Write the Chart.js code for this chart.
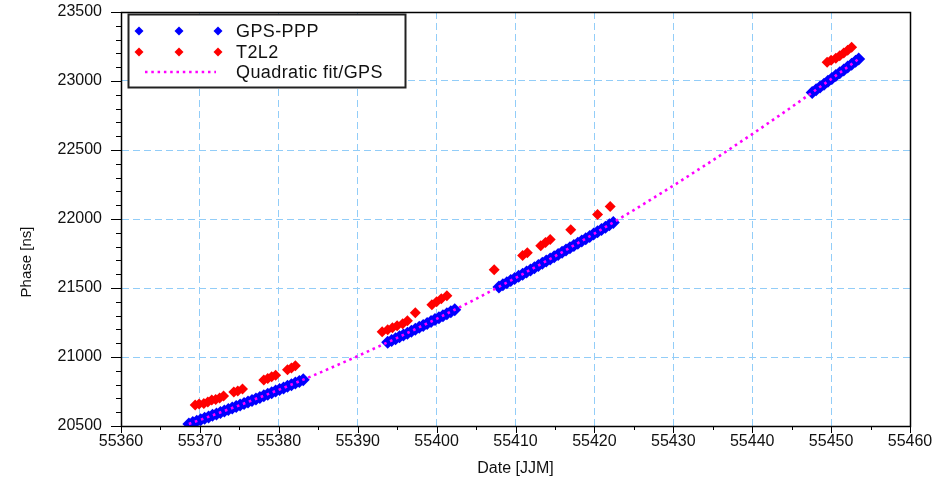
<!DOCTYPE html>
<html>
<head>
<meta charset="utf-8">
<script src="https://cdn.jsdelivr.net/npm/chart.js@4.4.1/dist/chart.umd.min.js"></script>
<style>
  html, body { margin: 0; padding: 0; background: #fff; }
  #wrap { width: 950px; height: 483px; }
</style>
</head>
<body>
<div id="wrap"><canvas id="c" width="950" height="483"></canvas></div>
<script>
// GPS-PPP phase solution (MJD, ns)
const gpsDates = [
  55368.6, 55369.1, 55369.6, 55370.1, 55370.6, 55371.1, 55371.6, 55372.1, 55372.6, 55373.1,
  55373.6, 55374.1, 55374.6, 55375.1, 55375.6, 55376.1, 55376.6, 55377.1, 55377.6, 55378.1,
  55378.6, 55379.1, 55379.6, 55380.1, 55380.6, 55381.1, 55381.6, 55382.1, 55382.6, 55383.1,
  55393.8, 55394.3, 55394.8, 55395.3, 55395.8, 55396.3, 55396.8, 55397.3, 55397.8, 55398.3,
  55398.8, 55399.3, 55399.8, 55400.3, 55400.8, 55401.3, 55401.8, 55402.3,
  55407.9, 55408.4, 55408.9, 55409.4, 55409.9, 55410.4, 55410.9, 55411.4, 55411.9, 55412.4,
  55412.9, 55413.4, 55413.9, 55414.4, 55414.9, 55415.4, 55415.9, 55416.4, 55416.9, 55417.4,
  55417.9, 55418.4, 55418.9, 55419.4, 55419.9, 55420.4, 55420.9, 55421.4, 55421.9, 55422.4,
  55447.6, 55448.1, 55448.6, 55449.1, 55449.6, 55450.1, 55450.6, 55451.1, 55451.6, 55452.1,
  55452.6, 55453.1, 55453.5
];
const gpsPhase = [
  20515, 20525, 20535, 20546, 20556, 20566, 20577, 20587, 20598, 20609,
  20619, 20630, 20641, 20652, 20663, 20674, 20685, 20696, 20707, 20719,
  20730, 20741, 20753, 20764, 20776, 20788, 20799, 20811, 20823, 20835,
  21106, 21119, 21133, 21146, 21160, 21173, 21187, 21201, 21215, 21229,
  21243, 21257, 21271, 21285, 21299, 21313, 21328, 21342,
  21508, 21523, 21538, 21554, 21569, 21585, 21600, 21616, 21631, 21647,
  21663, 21679, 21695, 21711, 21727, 21743, 21759, 21775, 21791, 21808,
  21824, 21841, 21857, 21874, 21891, 21907, 21924, 21941, 21958, 21975,
  22916, 22936, 22957, 22977, 22998, 23018, 23039, 23059, 23080, 23101,
  23122, 23143, 23160
];

// T2L2 time transfer results (MJD, ns)
const t2l2Dates = [
  55369.4, 55369.9, 55370.5, 55371.0, 55371.5, 55372.0, 55372.5, 55373.0,
  55374.3, 55374.8, 55375.4, 55378.1, 55378.6, 55379.1, 55379.6,
  55381.1, 55381.6, 55382.1,
  55393.1, 55393.8, 55394.4, 55395.0, 55395.7, 55396.3, 55397.3,
  55399.4, 55400.0, 55400.6, 55401.3,
  55407.3, 55410.9, 55411.5, 55413.2, 55413.8, 55414.4, 55417.0, 55420.4, 55422.0,
  55449.5, 55450.0, 55450.6, 55451.1, 55451.6, 55452.1, 55452.6
];
const t2l2Phase = [
  20652, 20660, 20663, 20674, 20689, 20692, 20703, 20718,
  20747, 20754, 20769, 20834, 20845, 20856, 20867,
  20907, 20921, 20936,
  21183, 21197, 21212, 21226, 21241, 21263, 21321,
  21379, 21401, 21422, 21444,
  21633, 21735, 21756, 21807, 21829, 21851, 21923, 22032, 22090,
  23136, 23151, 23165, 23183, 23202, 23223, 23245
];

// Quadratic fit of the GPS phase, tabulated
const fitDates = [
  55368.6, 55370, 55375, 55380, 55385, 55390, 55395, 55400, 55405, 55410,
  55415, 55420, 55425, 55430, 55435, 55440, 55445, 55450, 55453.5
];
const fitPhase = [
  20515.1, 20543.6, 20649.6, 20762.0, 20880.9, 21006.3, 21138.1, 21276.4, 21421.1, 21572.3,
  21729.9, 21894.0, 22064.5, 22241.5, 22424.9, 22614.8, 22811.2, 23014.0, 23159.8
];

const seriesNames = ['GPS-PPP', 'T2L2', 'Quadratic fit/GPS'];
const axisTitles = { x: 'Date [JJM]', y: 'Phase [ns]' };
const xTicks = { min: 55360, max: 55460, step: 10, minor: 5 };
const yTicks = { min: 20500, max: 23500, step: 500, minor: 100 };

const BLUE = '#0000ff', RED = '#ff0000', MAGENTA = '#ff00ff', GRID = '#92cdf8';
const FONT = '"Liberation Sans", Arial, sans-serif';

const pairs = (xs, ys) => xs.map((x, i) => ({ x: x, y: ys[i] }));

// White page background
const background = {
  id: 'background',
  beforeDraw(chart) {
    const ctx = chart.ctx;
    ctx.save();
    ctx.fillStyle = '#fff';
    ctx.fillRect(0, 0, chart.width, chart.height);
    ctx.restore();
  }
};

// Plot frame with outward major and minor ticks, plus axis titles
const frame = {
  id: 'frame',
  afterDatasetsDraw(chart) {
    const { ctx, chartArea: a, scales } = chart;
    ctx.save();
    ctx.strokeStyle = '#000';
    ctx.lineWidth = 1;
    ctx.beginPath();
    for (let v = xTicks.min; v <= xTicks.max; v += xTicks.minor) {
      const px = Math.round(scales.x.getPixelForValue(v)) + 0.5;
      const len = (v - xTicks.min) % xTicks.step === 0 ? 7 : 4;
      ctx.moveTo(px, a.bottom);
      ctx.lineTo(px, a.bottom + len);
    }
    for (let v = yTicks.min; v <= yTicks.max; v += yTicks.minor) {
      const py = Math.round(scales.y.getPixelForValue(v)) + 0.5;
      const len = (v - yTicks.min) % yTicks.step === 0 ? 10 : 5;
      ctx.moveTo(a.left, py);
      ctx.lineTo(a.left - len, py);
    }
    ctx.stroke();
    ctx.lineWidth = 1.5;
    ctx.strokeRect(Math.round(a.left) + 0.5, Math.round(a.top) + 0.5,
      Math.round(a.right - a.left), Math.round(a.bottom - a.top));

    ctx.fillStyle = '#111';
    ctx.textAlign = 'center';
    ctx.textBaseline = 'middle';
    ctx.font = '16px ' + FONT;
    ctx.fillText(axisTitles.x, (a.left + a.right) / 2, 469);
    ctx.translate(27, 262);
    ctx.rotate(-Math.PI / 2);
    ctx.font = '15px ' + FONT;
    ctx.fillText(axisTitles.y, 0, 0);
    ctx.restore();
  }
};

function diamond(ctx, x, y, r, color) {
  ctx.fillStyle = color;
  ctx.beginPath();
  ctx.moveTo(x, y - r);
  ctx.lineTo(x + r, y);
  ctx.lineTo(x, y + r);
  ctx.lineTo(x - r, y);
  ctx.closePath();
  ctx.fill();
}

// Boxed legend in the upper-left corner of the plot
const boxLegend = {
  id: 'boxLegend',
  afterDraw(chart) {
    const { ctx, chartArea: a } = chart;
    const bx = a.left + 7, by = a.top + 2, bw = 277, bh = 73;
    ctx.save();
    ctx.fillStyle = '#fff';
    ctx.fillRect(bx, by, bw, bh);
    ctx.strokeStyle = '#222';
    ctx.lineWidth = 2;
    ctx.strokeRect(bx + 0.5, by + 0.5, bw, bh);
    const rows = [by + 17, by + 38, by + 58];
    const cols = [bx + 11, bx + 51, bx + 90];
    cols.forEach(cx => diamond(ctx, cx, rows[0], 4.5, BLUE));
    cols.forEach(cx => diamond(ctx, cx, rows[1], 4.5, RED));
    ctx.strokeStyle = MAGENTA;
    ctx.lineWidth = 2.5;
    ctx.setLineDash([2.5, 3.8]);
    ctx.beginPath();
    ctx.moveTo(bx + 17, rows[2]);
    ctx.lineTo(bx + 88, rows[2]);
    ctx.stroke();
    ctx.setLineDash([]);
    ctx.fillStyle = '#111';
    ctx.font = '18px ' + FONT;
    if ('letterSpacing' in ctx) ctx.letterSpacing = '0.4px';
    ctx.textBaseline = 'middle';
    seriesNames.forEach((name, i) => ctx.fillText(name, bx + 108, rows[i] + 1));
    ctx.restore();
  }
};

new Chart(document.getElementById('c'), {
  type: 'scatter',
  data: {
    datasets: [
      {
        label: seriesNames[2],
        data: pairs(fitDates, fitPhase),
        showLine: true,
        borderColor: MAGENTA,
        borderWidth: 2.6,
        borderDash: [2.6, 3.8],
        pointRadius: 0,
        fill: false,
        order: 0
      },
      {
        label: seriesNames[1],
        data: pairs(t2l2Dates, t2l2Phase),
        pointStyle: 'rectRot',
        pointRadius: 5.5,
        backgroundColor: RED,
        borderColor: RED,
        borderWidth: 0,
        order: 1
      },
      {
        label: seriesNames[0],
        data: pairs(gpsDates, gpsPhase),
        pointStyle: 'rectRot',
        pointRadius: 6.5,
        backgroundColor: BLUE,
        borderColor: BLUE,
        borderWidth: 0,
        order: 2
      }
    ]
  },
  options: {
    responsive: false,
    animation: false,
    devicePixelRatio: 1,
    layout: { padding: { left: 0, right: 40, top: 12, bottom: 0 } },
    plugins: { legend: { display: false }, tooltip: { enabled: false } },
    scales: {
      x: {
        type: 'linear',
        min: xTicks.min, max: xTicks.max,
        afterFit(s) { s.height = 57; s.paddingLeft = 0; s.paddingRight = 0; },
        ticks: {
          stepSize: xTicks.step,
          color: '#111',
          font: { family: FONT, size: 16 },
          padding: 6,
          maxRotation: 0,
          callback: v => String(v)
        },
        grid: { color: GRID, lineWidth: 1, drawTicks: false },
        border: { display: true, color: '#000', width: 1, dash: [7, 4] },
        title: { display: false }
      },
      y: {
        type: 'linear',
        min: yTicks.min, max: yTicks.max,
        afterFit(s) { s.width = 121; s.paddingTop = 0; s.paddingBottom = 0; },
        ticks: {
          stepSize: yTicks.step,
          color: '#111',
          font: { family: FONT, size: 16 },
          padding: 19,
          callback: v => String(v)
        },
        grid: { color: GRID, lineWidth: 1, drawTicks: false },
        border: { display: true, color: '#000', width: 1, dash: [7, 4] },
        title: { display: false }
      }
    }
  },
  plugins: [background, frame, boxLegend]
});
</script>
</body>
</html>
